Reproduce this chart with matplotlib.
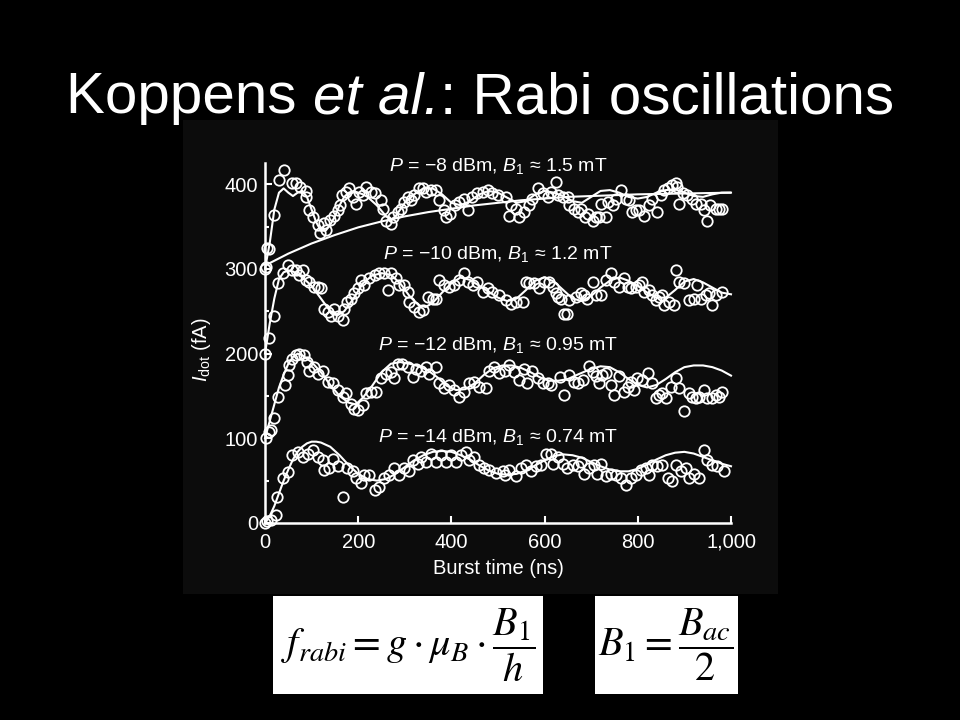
import numpy as np
import matplotlib
matplotlib.use("Agg")
from matplotlib import pyplot as plt
from matplotlib.patches import Rectangle

plt.rcParams["font.family"] = ["Liberation Sans", "DejaVu Sans"]
plt.rcParams["mathtext.fontset"] = "custom"
plt.rcParams["mathtext.rm"] = "Liberation Sans"
plt.rcParams["mathtext.it"] = "Liberation Sans:italic"

# ---- data (burst time in ns, current in fA) ----
labels = [
    r"$P$ = −8 dBm, $B_1$ ≈ 1.5 mT",
    r"$P$ = −10 dBm, $B_1$ ≈ 1.2 mT",
    r"$P$ = −12 dBm, $B_1$ ≈ 0.95 mT",
    r"$P$ = −14 dBm, $B_1$ ≈ 0.74 mT",
]
label_y = [422, 318, 210, 101]

# P = -8 dBm
t1 = [2, 5, 9, 20, 29, 41, 58, 66, 76, 87, 88, 95, 104, 113, 117, 127, 131, 139, 149, 156,
      160, 165, 174, 181, 188, 195, 202, 210, 217, 227, 237, 249, 253, 260, 270, 274, 285, 292,
      299, 306, 313, 320, 331, 338, 345, 356, 367, 373, 385, 389, 396, 407, 417, 428, 435, 445,
      456, 467, 478, 488, 499, 517, 524, 528, 538, 545, 556, 567, 574, 585, 596, 607, 614, 625,
      628, 639, 650, 653, 664, 671, 678, 686, 693, 703, 710, 717, 721, 731, 736, 746, 753, 764,
      774, 781, 788, 796, 803, 813, 824, 831, 842, 849, 856, 864, 874, 881, 885, 888, 896, 906,
      917, 924, 935, 942, 949, 956, 967, 974, 981]
i1 = [302, 325, 324, 364, 405, 417, 401, 401, 397, 392, 385, 370, 361, 352, 342, 354, 346, 358,
      362, 370, 375, 387, 391, 395, 385, 377, 391, 387, 397, 391, 389, 381, 371, 357, 353, 361,
      367, 371, 379, 385, 381, 387, 395, 395, 391, 393, 393, 381, 370, 361, 365, 375, 379, 383,
      370, 385, 389, 391, 393, 389, 387, 385, 363, 375, 371, 361, 367, 375, 383, 395, 389, 385,
      391, 403, 387, 385, 385, 375, 371, 367, 371, 361, 365, 357, 361, 361, 377, 361, 379, 375,
      383, 393, 383, 381, 367, 369, 369, 363, 375, 383, 367, 387, 393, 395, 399, 401, 397, 377,
      389, 387, 383, 377, 377, 369, 357, 375, 371, 371, 371]
ft1 = [0, 10, 20, 30, 40, 50, 60, 70, 80, 90, 100, 110, 120, 130, 140, 150, 160, 170, 180, 190,
       200, 210, 220, 240, 260, 270, 280, 290, 300, 320, 340, 360, 380, 400, 420, 440, 460, 480,
       500, 520, 540, 560, 580, 600, 620, 640, 660, 680, 700, 720, 740, 760, 780, 800, 820, 840,
       860, 880, 900, 920, 940, 960, 980, 1000]
fi1 = [300, 330, 370, 390, 395, 390, 386, 390, 392, 385, 370, 355, 345, 345, 352, 362, 375, 385,
       390, 392, 390, 388, 385, 375, 362, 358, 362, 370, 378, 388, 395, 395, 388, 378, 375, 380,
       388, 392, 390, 384, 378, 380, 388, 392, 390, 386, 380, 378, 385, 392, 393, 390, 385, 383,
       385, 390, 393, 394, 390, 386, 385, 388, 390, 390]
# slow saturation curve under the top trace
st = [0, 50, 100, 150, 200, 250, 300, 350, 400, 450, 500, 550, 600, 650, 700, 750, 800, 900, 1000]
si = [304, 318, 330, 340, 349, 356, 362, 367, 371, 375, 378, 381, 383, 385, 386, 387, 388, 389, 390]

# P = -10 dBm
t2 = [0, 9, 20, 27, 38, 49, 59, 66, 74, 81, 88, 95, 106, 113, 120, 127, 135, 142, 149, 156, 167,
      170, 177, 185, 192, 199, 206, 213, 224, 235, 245, 256, 263, 270, 281, 288, 299, 306, 310,
      320, 331, 338, 349, 360, 367, 374, 385, 395, 406, 417, 428, 435, 446, 456, 467, 478, 488,
      503, 517, 528, 539, 553, 560, 567, 578, 589, 599, 610, 617, 625, 628, 635, 642, 649, 653,
      667, 678, 685, 692, 703, 710, 721, 731, 742, 749, 760, 771, 778, 785, 796, 803, 810, 813,
      824, 831, 838, 845, 853, 856, 867, 878, 882, 889, 899, 910, 921, 928, 935, 946, 953, 960,
      967, 981]
i2 = [300, 218, 244, 283, 295, 305, 299, 299, 293, 299, 287, 285, 279, 279, 277, 253, 249, 244,
      253, 244, 240, 253, 261, 265, 271, 277, 287, 281, 289, 293, 295, 295, 275, 295, 289, 281,
      281, 273, 261, 255, 249, 251, 267, 265, 265, 287, 281, 279, 281, 287, 295, 285, 281, 285,
      273, 277, 273, 269, 263, 259, 261, 261, 285, 283, 283, 277, 285, 285, 279, 271, 267, 265,
      247, 247, 263, 267, 271, 269, 265, 285, 269, 269, 287, 295, 285, 279, 289, 279, 277, 279,
      281, 285, 273, 275, 269, 263, 267, 269, 257, 261, 257, 299, 285, 283, 263, 265, 281, 265,
      269, 271, 257, 269, 273]
ft2 = [0, 10, 20, 30, 40, 50, 60, 80, 100, 120, 140, 155, 170, 190, 210, 230, 250, 270, 290, 310,
       330, 345, 360, 380, 400, 420, 440, 460, 480, 500, 520, 540, 560, 580, 600, 620, 640, 660,
       680, 700, 720, 740, 760, 780, 800, 820, 840, 860, 880, 900, 920, 940, 960, 980, 1000]
fi2 = [200, 235, 265, 288, 296, 298, 297, 290, 280, 265, 250, 245, 250, 265, 283, 292, 295, 293,
       283, 268, 257, 255, 260, 272, 283, 290, 287, 280, 273, 266, 262, 265, 275, 286, 290, 285,
       275, 265, 262, 268, 278, 286, 290, 286, 280, 272, 266, 266, 275, 285, 288, 284, 278, 272,
       270]

# P = -12 dBm
t3 = [0, 3, 8, 13, 20, 27, 42, 49, 52, 59, 66, 74, 84, 91, 95, 106, 113, 124, 135, 145, 156, 167,
      174, 185, 192, 199, 210, 217, 228, 238, 249, 260, 270, 277, 285, 295, 306, 317, 324, 335,
      345, 352, 367, 374, 385, 395, 406, 417, 428, 438, 449, 460, 474, 481, 492, 503, 514, 524,
      535, 546, 556, 563, 574, 585, 596, 607, 614, 632, 642, 653, 664, 671, 682, 696, 703, 710,
      717, 724, 731, 742, 749, 760, 771, 778, 785, 792, 799, 810, 821, 831, 838, 845, 853, 860,
      871, 881, 888, 899, 910, 917, 924, 931, 942, 949, 960, 967, 974, 981]
i3 = [200, 100, 108, 110, 124, 149, 163, 175, 187, 194, 198, 200, 198, 190, 180, 184, 176, 180,
      167, 165, 157, 149, 153, 141, 135, 133, 139, 153, 155, 155, 171, 176, 178, 171, 188, 188,
      184, 172, 182, 180, 184, 176, 184, 165, 159, 163, 157, 149, 155, 165, 167, 161, 159, 180,
      184, 177, 180, 186, 178, 169, 182, 165, 180, 171, 165, 165, 163, 172, 151, 175, 167, 165,
      169, 185, 178, 173, 165, 175, 177, 163, 151, 173, 155, 161, 167, 157, 171, 169, 177, 165,
      147, 151, 153, 147, 161, 171, 159, 132, 153, 149, 147, 149, 157, 147, 147, 151, 149, 155]
ft3 = [0, 10, 20, 30, 40, 50, 60, 70, 80, 100, 120, 140, 160, 180, 195, 210, 230, 250, 270, 290,
       310, 330, 350, 370, 390, 410, 430, 450, 470, 490, 510, 530, 550, 570, 590, 610, 630, 650,
       670, 700, 720, 740, 760, 780, 800, 820, 840, 860, 880, 900, 920, 940, 960, 980, 1000]
fi3 = [100, 120, 140, 160, 175, 188, 196, 200, 198, 190, 178, 163, 150, 142, 140, 148, 162, 178,
       188, 190, 188, 185, 180, 172, 162, 157, 158, 165, 175, 183, 186, 186, 183, 178, 172, 168,
       168, 170, 175, 182, 185, 184, 178, 170, 163, 160, 163, 170, 178, 184, 186, 186, 184, 180,
       174]

# P = -14 dBm
t4 = [0, 5, 13, 24, 26, 38, 49, 59, 70, 81, 92, 102, 113, 124, 127, 138, 145, 156, 167, 177, 188,
      195, 206, 213, 224, 235, 245, 256, 267, 277, 288, 299, 310, 317, 328, 335, 345, 356, 367,
      378, 388, 399, 410, 420, 431, 438, 449, 460, 471, 481, 495, 510, 514, 524, 539, 549, 560,
      571, 581, 592, 603, 614, 617, 628, 639, 649, 660, 671, 678, 685, 696, 706, 713, 720, 731,
      742, 753, 764, 774, 785, 796, 806, 817, 824, 831, 842, 853, 864, 874, 881, 892, 903, 910,
      921, 931, 942, 949, 960, 971, 985]
i4 = [0, 2, 4, 10, 31, 53, 60, 80, 84, 78, 82, 86, 78, 74, 63, 65, 76, 67, 31, 65, 61, 53, 47,
      57, 57, 39, 43, 53, 57, 65, 57, 65, 61, 74, 70, 78, 72, 82, 72, 80, 72, 80, 72, 80, 84, 74,
      78, 68, 65, 63, 59, 61, 57, 63, 55, 65, 68, 61, 67, 68, 82, 82, 70, 78, 70, 65, 68, 67, 72,
      58, 65, 68, 58, 70, 55, 58, 57, 53, 45, 53, 57, 63, 65, 57, 68, 67, 68, 53, 49, 68, 61, 65,
      53, 58, 53, 86, 74, 68, 67, 61]
ft4 = [0, 10, 20, 30, 40, 50, 60, 70, 80, 90, 100, 110, 120, 140, 160, 180, 200, 220, 240, 260,
       280, 300, 320, 340, 360, 380, 400, 420, 440, 460, 480, 500, 520, 540, 560, 580, 600, 620,
       640, 660, 680, 700, 720, 740, 760, 780, 800, 820, 840, 860, 880, 900, 920, 940, 960, 980,
       1000]
fi4 = [0, 8, 20, 35, 50, 63, 75, 84, 90, 94, 96, 96, 95, 90, 80, 68, 58, 52, 50, 52, 58, 66, 74,
       80, 84, 85, 84, 80, 75, 68, 62, 58, 57, 58, 62, 68, 74, 79, 81, 80, 77, 72, 67, 63, 61, 61,
       64, 69, 75, 80, 83, 84, 82, 78, 74, 70, 67]

x_ticks = [0, 200, 400, 600, 800, 1000]
x_ticklabels = ["0", "200", "400", "600", "800", "1,000"]
y_ticks = [0, 100, 200, 300, 400]

fig = plt.figure(figsize=(9.6, 7.2), dpi=100, facecolor="black")

# slide title, in three pieces so "et al." can be italic without mathtext gaps
title_parts = [("Koppens ", "normal"), ("et al.", "italic"), (": Rabi oscillations", "normal")]
title_size = 42
title_y = 1 - 113 / 720
renderer = fig.canvas.get_renderer()
pieces = []
for txt, style in title_parts:
    pieces.append(fig.text(0, title_y, txt, fontsize=title_size, color="white",
                           style=style, ha="left", va="baseline"))
widths = [p.get_window_extent(renderer).width / fig.bbox.width for p in pieces]
x0 = 0.5 - sum(widths) / 2
for p, w in zip(pieces, widths):
    p.set_x(x0)
    x0 += w

# dark panel behind the figure
fig.patches.append(Rectangle((183 / 960, 1 - 594 / 720), 595 / 960, 474 / 720,
                             transform=fig.transFigure, facecolor="#0c0c0c",
                             edgecolor="none", zorder=0))

ax = fig.add_axes([265 / 960, 1 - 523 / 720, 466 / 960, 360 / 720])
ax.set_zorder(2)
ax.set_facecolor("none")

series = [(t1, i1, ft1, fi1), (t2, i2, ft2, fi2), (t3, i3, ft3, fi3), (t4, i4, ft4, fi4)]
for t, i, ft, fi in series:
    ax.plot(ft, fi, color="white", lw=1.5, clip_on=False, zorder=2)
    ax.plot(t, i, "o", ms=7.5, mfc="none", mec="white", mew=1.3, clip_on=False, zorder=3)
ax.plot(st, si, color="white", lw=1.5, zorder=2)

for lab, ly in zip(labels, label_y):
    ax.text(500, ly, lab, color="white", fontsize=14, ha="center", va="center")

ax.set_xlim(0, 1000)
ax.set_ylim(0, 425)
ax.set_xticks(x_ticks)
ax.set_xticklabels(x_ticklabels)
ax.set_yticks(y_ticks)
ax.set_yticks([50, 150, 250, 350], minor=True)
ax.tick_params(direction="in", colors="white", labelsize=14.5, length=5, width=1.5)
ax.tick_params(axis="x", pad=7)
ax.tick_params(axis="y", pad=5)
ax.tick_params(which="minor", direction="in", colors="white", length=3, width=1.5)
for side in ["top", "right"]:
    ax.spines[side].set_visible(False)
for side in ["left", "bottom"]:
    ax.spines[side].set_color("white")
    ax.spines[side].set_linewidth(1.8)

ax.set_xlabel("Burst time (ns)", color="white", fontsize=14.5, labelpad=5)
ax.set_ylabel(r"$I_{\rm dot}$ (fA)", color="white", fontsize=14.5)
ax.yaxis.set_label_coords(-0.112, 0.48)

# formula boxes
fig.patches.append(Rectangle((273 / 960, 1 - 694 / 720), 270 / 960, 98 / 720,
                             transform=fig.transFigure, facecolor="white", edgecolor="none"))
fig.patches.append(Rectangle((595 / 960, 1 - 694 / 720), 143 / 960, 98 / 720,
                             transform=fig.transFigure, facecolor="white", edgecolor="none"))
fig.text(408 / 960, 1 - 645 / 720, r"$f_{rabi} = g \cdot \mu_B \cdot \dfrac{B_1}{h}$",
         fontsize=29, color="black", ha="center", va="center", math_fontfamily="stix")
fig.text(666 / 960, 1 - 645 / 720, r"$B_1 = \dfrac{B_{ac}}{2}$",
         fontsize=29, color="black", ha="center", va="center", math_fontfamily="stix")

fig.savefig("out.png", dpi=100, facecolor="black")
